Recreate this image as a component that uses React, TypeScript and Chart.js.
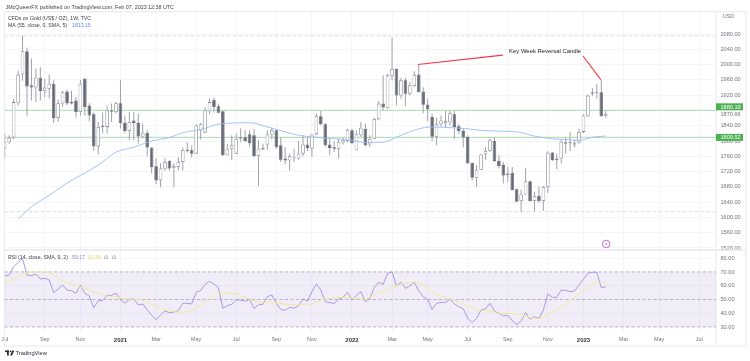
import React, { useEffect, useRef } from "react";
import { Chart, registerables } from "chart.js";

Chart.register(...registerables);

const opens = [1781,1797,1809,1899,1974,2035,1946,1940,1966,1931,1937,1950,1860,1898,1930,1902,1906,1876,1963,1893,1870,1786,1837,1837,1880,1876,1899,1847,1826,1854,1847,1812,1822,1783,1734,1697,1726,1748,1730,1732,1745,1774,1776,1767,1828,1822,1878,1908,1891,1878,1763,1780,1767,1806,1810,1818,1815,1761,1781,1791,1817,1828,1789,1754,1749,1759,1754,1767,1791,1780,1818,1865,1844,1791,1784,1780,1796,1800,1828,1776,1815,1832,1791,1806,1857,1898,1887,1970,1989,1919,1959,1924,1944,1974,1930,1896,1863,1811,1844,1847,1849,1870,1839,1826,1811,1743,1704,1725,1765,1774,1800,1748,1737,1711,1717,1674,1643,1660,1695,1643,1657,1643,1680,1770,1750,1754,1793,1797,1789,1796,1824,1865,1924,1926,1928,1865];
const highs = [1820,1815,1911,1985,2076,2045,2016,1990,1993,1964,1974,1959,1909,1932,1935,1932,1915,1960,1966,1899,1875,1850,1875,1893,1898,1902,1959,1867,1876,1876,1872,1846,1828,1783,1755,1742,1755,1750,1742,1758,1783,1797,1789,1844,1847,1889,1911,1915,1898,1879,1793,1815,1820,1833,1828,1828,1832,1802,1793,1828,1835,1830,1809,1784,1767,1780,1800,1815,1810,1818,1872,1879,1847,1806,1800,1806,1810,1832,1832,1828,1850,1845,1815,1861,1905,1972,1976,2070,1989,1965,1965,1954,1983,2000,1941,1911,1872,1861,1867,1879,1879,1880,1845,1832,1815,1743,1737,1767,1784,1806,1810,1763,1745,1732,1732,1676,1673,1730,1697,1667,1680,1682,1773,1771,1767,1804,1809,1824,1802,1832,1870,1922,1939,1950,1960,1880];
const lows = [1757,1793,1805,1893,1958,1865,1906,1902,1906,1915,1911,1847,1850,1889,1893,1896,1861,1866,1867,1852,1774,1765,1820,1820,1850,1872,1833,1820,1802,1802,1793,1807,1760,1716,1687,1679,1723,1722,1679,1722,1723,1770,1757,1767,1804,1822,1870,1875,1873,1761,1763,1750,1767,1797,1797,1786,1757,1682,1777,1777,1804,1780,1745,1739,1722,1745,1751,1760,1774,1758,1815,1841,1785,1763,1771,1754,1791,1797,1791,1776,1811,1786,1784,1806,1854,1880,1885,1959,1893,1911,1891,1919,1941,1928,1873,1852,1800,1789,1838,1837,1841,1806,1819,1784,1741,1697,1680,1725,1751,1771,1745,1728,1689,1693,1671,1641,1615,1660,1641,1617,1639,1617,1664,1748,1726,1741,1767,1774,1784,1793,1821,1863,1917,1911,1863,1861];
const closes = [1797,1809,1902,1974,2035,1943,1940,1966,1931,1940,1950,1860,1899,1928,1898,1898,1876,1950,1889,1867,1786,1837,1841,1880,1877,1899,1847,1826,1850,1847,1812,1822,1783,1732,1697,1728,1745,1728,1735,1745,1776,1778,1767,1841,1844,1880,1902,1889,1874,1763,1780,1789,1806,1810,1800,1794,1761,1780,1778,1817,1828,1784,1751,1749,1761,1757,1767,1791,1782,1817,1865,1844,1789,1782,1780,1797,1802,1830,1795,1818,1835,1789,1806,1858,1898,1888,1972,1989,1919,1959,1924,1946,1974,1928,1895,1883,1811,1845,1854,1852,1873,1837,1826,1809,1741,1704,1725,1765,1774,1802,1748,1734,1710,1715,1671,1641,1660,1695,1643,1656,1643,1680,1770,1750,1754,1798,1797,1794,1795,1824,1867,1919,1928,1928,1865,1870.66];

const maWeeks = [3,6,10,14,17,21,25,29,33,37,40,44,48,55,59,63,66,70,74,78,81,85,89,93,96,100,104,107,111,115,119,123,126,129,132,135];
const maValues = [1596,1628,1658,1690,1710,1737,1771,1784,1800,1809,1822,1830,1844,1848,1837,1824,1815,1810,1806,1802,1796,1797,1815,1832,1837,1835,1832,1828,1826,1824,1813,1806,1804,1802,1810,1813.15];

const rsiValues = [67.1,67.8,73.9,76.8,79.9,67.8,67.3,68.5,64.9,65.4,64.2,55,57.6,60.5,56.9,56.4,54.5,60.5,54.5,52.5,44,48.9,49.4,53,53,54.5,50.1,47.2,50.1,50.4,46,46.7,42.4,38.7,35.3,38.7,41.6,40.4,40.9,41.9,47.2,47.2,46.7,55.2,56.4,61,63.2,61.3,58.6,43.6,45.5,46.5,49.6,49.6,48.7,50.1,43.6,46,46.5,52.1,53.3,47.2,42.8,42.1,44.3,43.6,45.5,50.4,48.9,55.7,61.3,56.9,48.4,47.7,47.2,50.1,51.6,55.2,49.6,52.8,55.7,48.4,50.8,58.6,62.5,61,69,70.2,59.8,62.5,58.1,59.8,62.5,56.2,52.1,50.1,42.8,47.2,47.9,47.9,50.1,46.7,44.8,43.1,36.3,33.2,36.3,42.4,43.1,47.2,41.6,39.9,38,38.5,34.6,31.7,34.4,40.4,35.6,37.5,36.3,42.4,54,51.6,51.6,56.9,56.7,55.7,56.2,60.5,64.7,69,69.8,69.8,58.6,59.17];

const signalWeeks = [0,1,2,3,4,5,7,9,10,11,12,13,15,17,19,21,23,25,27,29,31,33,35,37,39,41,42,44,46,48,50,52,54,55,57,59,61,63,65,67,69,71,73,75,77,79,81,83,85,87,89,92,94,96,98,100,102,104,106,108,110,111,114,116,118,120,122,124,126,128,130,132,133,135];
const signalValues = [63,63.2,64.7,66.6,69,69.8,70,70.2,69.8,67.8,65.4,63.5,61.3,59.3,56.9,54.5,52.5,52.1,50.4,50.1,49.6,46.5,43.6,41.9,40.7,41.2,41.9,45.5,50.1,54.5,54.7,54.2,51.6,50.1,47.7,48.2,47.7,46.5,46.2,46.5,46.7,49.6,50.8,51.6,51.3,50.8,50.1,53.3,55.7,58.8,61,62.7,60.5,55.7,52.8,50.4,47.9,45.5,42.8,41.9,40.9,39.5,39.9,39,36.8,36.1,38.7,42.8,46.7,51.6,56.2,60.5,62.5,62.49];

const monthWeeks = [0,9,17,26,34,43,52,61,69,78,87,95,104,113,122,130,139,147,156];
const monthLabels = ["Jul","Sep","Nov","2021","Mar","May","Jul","Sep","Nov","2022","Mar","May","Jul","Sep","Nov","2023","Mar","May","Jul"];
const priceTicks = [2080,2040,2000,1960,1920,1880,1870.66,1840,1800,1760,1720,1680,1640,1600,1560,1520];
const rsiTicks = [80,70,60,50,40,30];
const rsiLevels = [70,50,30];
const levelLines = [1880.19,1809.52];
const extremes = [2075,1615];
const arrowOne = [[92.8,2000.4],[111.9,2025]];
const arrowTwo = [[129.9,2022.6],[133.9,1961]];
const noteText = "Key Week Reversal Candle";
const notePoint = [113.3,2035.6];
const eventPoint = 135.1;

const WEEK_MIN = -0.05;
const WEEK_MAX = 159.77;
const FONT = '"Liberation Sans", Arial, sans-serif';
const GRID = "#f3f4f8";
const GREY = "#70737d";

const span = (y: number) => [{ x: WEEK_MIN, y }, { x: WEEK_MAX, y }];
const noPadding = (s: any) => {
  s.paddingLeft = 0;
  s.paddingRight = 0;
  s.paddingTop = 0;
  s.paddingBottom = 0;
};

const chrome = {
  id: "chrome",
  beforeDatasetsDraw(chart: any) {
    const { ctx, chartArea: a } = chart;
    const ry = chart.scales.y.bottom;
    ctx.save();
    ctx.strokeStyle = "#e6e7ec";
    ctx.lineWidth = 1.4;
    ctx.beginPath();
    ctx.moveTo(a.left, ry);
    ctx.lineTo(746, ry);
    ctx.stroke();
    ctx.lineWidth = 1.2;
    ctx.strokeStyle = "#ebecf0";
    ctx.strokeRect(a.left, a.top, 746 - a.left, 346 - a.top);
    ctx.beginPath();
    ctx.moveTo(a.right, a.top);
    ctx.lineTo(a.right, 346);
    ctx.stroke();
    ctx.restore();
  },
  afterDraw(chart: any) {
    const { ctx, scales, chartArea: a } = chart;
    const put = (t: string, x: number, y: number, font: string, color: string) => {
      ctx.font = font;
      ctx.fillStyle = color;
      ctx.textAlign = "left";
      ctx.textBaseline = "middle";
      ctx.fillText(t, x, y);
    };
    ctx.save();
    const small = `5.2px ${FONT}`;
    put("JMcQueenFX published on TradingView.com, Feb 07, 2023 12:38 UTC", 5.5, 7.5, `5.35px ${FONT}`, "#3c3f47");
    put("CFDs on Gold (US$ / OZ), 1W, TVC", 8, 19, small, "#3c3f47");
    put("MA (55, close, 0, SMA, 5)", 8, 26, small, "#3c3f47");
    put("1813.15", 72, 26, small, "#5b8cf0");
    put("USD", 723, 17, small, "#6f727c");
    put("RSI (14, close, SMA, 9, 2)", 8, 257.3, small, "#3c3f47");
    put("59.17", 72, 257.3, small, "#9b7fd6");
    put("62.49", 88, 257.3, small, "#eadb6c");
    put("∅", 104, 257.3, small, "#6f727c");
    put("∅", 112, 257.3, small, "#6f727c");
    put(noteText, scales.x.getPixelForValue(notePoint[0]), scales.y.getPixelForValue(notePoint[1]), `5.9px ${FONT}`, "#222");

    levelLines.forEach((v, i) => {
      const y = scales.y.getPixelForValue(v) - (i === 0 ? 3.6 : 0);
      ctx.fillStyle = "#4caf50";
      ctx.fillRect(a.right, y - 3.5, 27, 7);
      put(v.toFixed(2), 720.5, y + 0.2, `5.6px ${FONT}`, "#ffffff");
    });

    const ex = scales.x.getPixelForValue(eventPoint);
    const ey = 244;
    ctx.strokeStyle = "#c05ad0";
    ctx.lineWidth = 0.9;
    ctx.beginPath();
    ctx.arc(ex, ey, 3.8, 0, Math.PI * 2);
    ctx.stroke();
    ctx.fillStyle = "#c05ad0";
    ctx.beginPath();
    ctx.moveTo(ex + 0.9, ey - 2.2);
    ctx.lineTo(ex - 1.2, ey + 0.4);
    ctx.lineTo(ex, ey + 0.3);
    ctx.lineTo(ex - 0.9, ey + 2.2);
    ctx.lineTo(ex + 1.2, ey - 0.4);
    ctx.lineTo(ex, ey - 0.3);
    ctx.closePath();
    ctx.fill();

    ctx.fillStyle = "#2b2e38";
    ctx.fillRect(5, 350.5, 4, 1.6);
    ctx.fillRect(7, 350.5, 1.8, 5);
    ctx.beginPath();
    ctx.arc(10.6, 351.4, 0.9, 0, Math.PI * 2);
    ctx.fill();
    ctx.beginPath();
    ctx.moveTo(12.4, 350.5);
    ctx.lineTo(14.4, 350.5);
    ctx.lineTo(12, 355.5);
    ctx.lineTo(10, 355.5);
    ctx.closePath();
    ctx.fill();
    put("TradingView", 15.5, 353.2, `500 5.7px ${FONT}`, "#2b2e38");
    ctx.restore();
  },
};

export default function App() {
  const ref = useRef<HTMLCanvasElement>(null);
  useEffect(() => {
    const weeks = opens.map((_, i) => i);
    const line = (label: string, yAxisID: string, data: any[], borderColor: string, borderWidth: number, order: number, extra: any = {}) => ({
      type: "line",
      label,
      yAxisID,
      xAxisID: "x",
      data,
      borderColor,
      borderWidth,
      order,
      pointRadius: 0,
      tension: 0,
      fill: false,
      ...extra,
    });
    const isYear = (c: any) => Number.isInteger(+monthLabels[monthWeeks.indexOf(c.tick?.value)]);
    const chart = new Chart(ref.current as HTMLCanvasElement, {
      type: "bar",
      plugins: [chrome],
      data: {
        datasets: [
          line("RSI band", "rsi", span(70), "rgba(0,0,0,0)", 0, 100, { fill: { value: 30 }, backgroundColor: "rgba(126,87,194,0.11)" }),
          ...rsiLevels.map((lv) => line(`RSI level ${lv}`, "rsi", span(lv), "#b3abc4", 0.9, 90, { borderDash: [3, 2.5] })),
          ...extremes.map((v) => line(`Extreme ${v}`, "y", span(v), "#dcdde2", 0.9, 90, { borderDash: [4, 2] })),
          ...levelLines.map((v) => line(`Level ${v}`, "y", span(v), "#b9e1bb", 1.3, 60)),
          {
            type: "bar",
            label: "Wicks",
            yAxisID: "y",
            xAxisID: "x",
            grouped: false,
            barThickness: 1,
            backgroundColor: "#a0a2ab",
            borderWidth: 0,
            inflateAmount: 0,
            order: 40,
            data: weeks.map((i) => ({ x: i, y: [lows[i], highs[i]] })),
          },
          {
            type: "bar",
            label: "Bodies",
            yAxisID: "y",
            xAxisID: "x",
            grouped: false,
            barThickness: 3.6,
            backgroundColor: weeks.map((i) => (closes[i] >= opens[i] ? "#ffffff" : "#686b75")),
            borderColor: weeks.map((i) => (closes[i] >= opens[i] ? "#8a8d96" : "#686b75")),
            borderWidth: 0.8,
            borderSkipped: false,
            inflateAmount: 0,
            order: 30,
            data: weeks.map((i) => ({ x: i, y: [opens[i], closes[i]] })),
          },
          line("MA", "y", maWeeks.map((x, i) => ({ x, y: maValues[i] })), "#9dbbf6", 0.9, 20, { cubicInterpolationMode: "monotone" }),
          line("RSI", "rsi", weeks.map((x) => ({ x, y: rsiValues[x] })), "#a48fd9", 0.9, 20),
          line("Signal", "rsi", signalWeeks.map((x, i) => ({ x, y: signalValues[i] })), "#f5e890", 0.9, 15),
          line("Arrow one", "y", arrowOne.map(([x, y]) => ({ x, y })), "#f23645", 1.1, 10),
          line("Arrow two", "y", arrowTwo.map(([x, y]) => ({ x, y })), "#f23645", 1.1, 10),
        ] as any,
      },
      options: {
        responsive: false,
        animation: false,
        layout: { autoPadding: false, padding: { left: 4.5, top: 11.7, right: 0, bottom: 15 } },
        plugins: { legend: { display: false }, tooltip: { enabled: false } },
        events: [],
        scales: {
          x: {
            type: "linear",
            offset: false,
            min: WEEK_MIN,
            max: WEEK_MAX,
            position: "bottom",
            afterFit: (s: any) => { s.height = 14; noPadding(s); },
            afterBuildTicks: (s: any) => { s.ticks = monthWeeks.map((value) => ({ value })); },
            grid: { color: GRID, lineWidth: 0.9, drawTicks: false, offset: false },
            border: { display: false },
            ticks: {
              autoSkip: false,
              maxRotation: 0,
              padding: 4.5,
              color: (c: any) => (isYear(c) ? "#33363f" : GREY),
              font: (c: any) => ({ family: FONT, size: isYear(c) ? 6 : 5.4, weight: isYear(c) ? "bold" : "normal" }),
              callback: (v: any) => monthLabels[monthWeeks.indexOf(v)],
            },
          },
          y: {
            type: "linear",
            position: "right",
            stack: "panes",
            stackWeight: 238.3,
            min: 1514.7,
            max: 2138.7,
            afterFit: (s: any) => { s.width = 34; noPadding(s); },
            afterBuildTicks: (s: any) => { s.ticks = priceTicks.map((value) => ({ value })); },
            grid: { color: (c: any) => (c.tick?.value === 1870.66 ? "rgba(0,0,0,0)" : GRID), lineWidth: 0.9, drawTicks: false },
            border: { display: false },
            ticks: {
              autoSkip: false,
              padding: 4.5,
              color: GREY,
              font: { family: FONT, size: 5.6 },
              callback: (v: any) => (v === 1880 ? "" : (+v).toFixed(2)),
            },
          },
          rsi: {
            type: "linear",
            position: "right",
            stack: "panes",
            stackWeight: 82,
            min: 26.35,
            max: 86,
            afterFit: (s: any) => { s.width = 34; noPadding(s); },
            afterBuildTicks: (s: any) => { s.ticks = rsiTicks.map((value) => ({ value })); },
            grid: { color: GRID, lineWidth: 0.9, drawTicks: false },
            border: { display: false },
            ticks: {
              autoSkip: false,
              padding: 4.5,
              color: GREY,
              font: { family: FONT, size: 5.6 },
              callback: (v: any) => (+v).toFixed(2),
            },
          },
        },
      } as any,
    });
    return () => chart.destroy();
  }, []);
  return <canvas ref={ref} width={750} height={361} style={{ position: "absolute", left: 0, top: 0, display: "block", width: 750, height: 361, filter: "blur(0.3px)" }} />;
}
